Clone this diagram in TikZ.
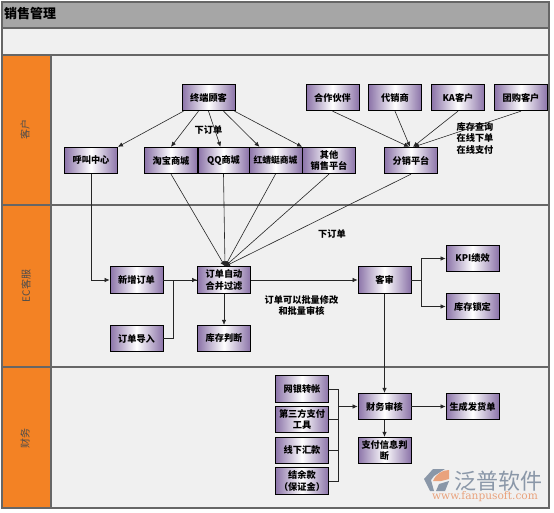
\documentclass[tikz,border=0pt]{standalone}
\usepackage{fontspec}
\setmainfont{Noto Sans CJK SC}
\newfontfamily\urlfont{DejaVu Serif}
\usepackage{xcolor}
\definecolor{laneOrange}{HTML}{F38224}
\definecolor{laneBack}{HTML}{F0F0F0}
\definecolor{laneEdge}{HTML}{666666}
\definecolor{titleGray}{HTML}{A6A6A6}
\definecolor{boxPurple}{HTML}{8B73A8}
\definecolor{logoGray}{HTML}{8A97A8}
\definecolor{logoOrange}{HTML}{E9A27C}
\usetikzlibrary{arrows.meta}
\tikzset{
  lane/.style={draw=laneEdge, line width=1.2pt},
  flowbox/.style={draw=black, line width=0.8pt, minimum width=53pt, minimum height=26.5pt,
    inner sep=0pt, align=center, font=\fontsize{9.2}{11.5}\selectfont\bfseries,
    left color=boxPurple, right color=boxPurple, middle color=white},
  flow/.style={draw=black!85, line width=0.6pt, -{Latex[length=5pt,width=4.5pt]}},
  plain/.style={draw=black!85, line width=0.6pt},
  note/.style={align=center, font=\fontsize{9.2}{11.5}\selectfont\bfseries},
  lanename/.style={rotate=90, text=black!70, font=\fontsize{10}{11}\selectfont}
}
\begin{document}
\begin{tikzpicture}[x=1pt, y=-1pt]
  \useasboundingbox (0,0) rectangle (554,513);
  \fill[white] (0,0) rectangle (554,513);
  % lanes
  \filldraw[lane, fill=titleGray] (2,2) rectangle (549,28);
  \filldraw[lane, fill=laneBack] (2,28) rectangle (549,55);
  \filldraw[lane, fill=laneBack] (51,55) rectangle (549,205);
  \filldraw[lane, fill=laneBack] (51,205) rectangle (549,367);
  \filldraw[lane, fill=laneBack] (51,367) rectangle (549,508);
  \filldraw[lane, fill=laneOrange] (2,55) rectangle (51,205);
  \filldraw[lane, fill=laneOrange] (2,205) rectangle (51,367);
  \filldraw[lane, fill=laneOrange] (2,367) rectangle (51,508);
  \node[anchor=west, inner sep=0pt, font=\fontsize{13}{14}\selectfont\bfseries] (title) at (4,14) {销售管理};
  \node[lanename] (kehu) at (25,130) {客户};
  \node[lanename] (eckefu) at (26,286) {EC客服};
  \node[lanename] (caiwu) at (25,438) {财务};
  % boxes
  \node[flowbox] (term) at (208.5,97.5) {终端顾客};
  \node[flowbox] (hujiao) at (91,160.5) {呼叫中心};
  \node[flowbox] (taobao) at (171,160.5) {淘宝商城};
  \node[flowbox, minimum width=51pt] (qq) at (223.5,160.5) {QQ商城};
  \node[flowbox] (hong) at (275.5,160.5) {\fontsize{8.8}{11}\selectfont 红蜻蜓商城};
  \node[flowbox] (qita) at (329,160.5) {其他\\销售平台};
  \node[flowbox] (fenxiao) at (411,160.5) {分销平台};
  \node[flowbox] (hezuo) at (332.5,97.5) {合作伙伴};
  \node[flowbox] (daixiao) at (395,97.5) {代销商};
  \node[flowbox] (ka) at (458,97.5) {KA客户};
  \node[flowbox] (tuangou) at (521,97.5) {团购客户};
  \node[flowbox] (xinzeng) at (136.5,280) {新增订单};
  \node[flowbox] (hebing) at (224,280) {订单自动\\合并过滤};
  \node[flowbox] (kehushen) at (384.5,280) {客审};
  \node[flowbox] (kpi) at (472.5,258.5) {KPI绩效};
  \node[flowbox] (suoding) at (472.5,306.5) {库存锁定};
  \node[flowbox] (daoru) at (136.5,338.5) {订单导入};
  \node[flowbox] (panduan) at (224,338.5) {库存判断};
  \node[flowbox] (wangyin) at (302,389) {网银转帐};
  \node[flowbox] (disanfang) at (302,419.5) {第三方支付\\工具};
  \node[flowbox] (xianxia) at (302,450.5) {线下汇款};
  \node[flowbox] (jieyu) at (302,481) {结余款\\（保证金）};
  \node[flowbox] (shenhe) at (384.5,406.5) {财务审核};
  \node[flowbox] (zhifu) at (384.5,450.5) {支付信息判\\断};
  \node[flowbox] (fahuo) at (472.5,406.5) {生成发货单};
  % notes
  \node[note] (xia1) at (208.5,130) {下订单};
  \node[note] (kucun) at (475,138) {库存查询\\在线下单\\在线支付};
  \node[note] (xia2) at (332,234.5) {下订单};
  \node[note] (piliang) at (301.5,305.5) {订单可以批量修改\\和批量审核};
  % connectors
  \draw[flow] ([xshift=-25pt]term.south) -- (hujiao.north east);
  \draw[flow] ([xshift=-10pt]term.south) -- (taobao.north);
  \draw[flow] (term.south) -- ([xshift=-3pt]qq.north);
  \draw[flow] ([xshift=15pt]term.south) -- ([xshift=-16pt]hong.north);
  \draw[flow] ([xshift=26pt]term.south) -- (qita.north west);
  \foreach \src in {taobao, qq, hong, qita, fenxiao}
    \draw[flow] (\src.south) -- ([xshift=1pt]hebing.north);
  \draw[flow] (hezuo.south) -- ([xshift=-2pt]fenxiao.north);
  \draw[flow] (daixiao.south) -- ([xshift=-1pt]fenxiao.north);
  \draw[flow] (ka.south) -- ([xshift=2pt]fenxiao.north);
  \draw[flow] (tuangou.south) -- ([xshift=3pt]fenxiao.north);
  \draw[flow] (hujiao.south) |- (xinzeng.west);
  \draw[flow] (xinzeng) -- (hebing);
  \draw[plain] (daoru.east) -- ++(10,0) |- (hebing.west);
  \draw[flow] (hebing) -- (panduan);
  \draw[flow] (hebing) -- (kehushen);
  \draw[plain] (kehushen.east) -- ++(10,0) coordinate (fork);
  \draw[flow] (fork) |- (kpi.west);
  \draw[flow] (fork) |- (suoding.west);
  \draw[flow] (kehushen) -- (shenhe);
  \draw[flow] (shenhe) -- (zhifu);
  \draw[flow] (shenhe) -- (fahuo);
  \coordinate (join) at (338.5,406.5);
  \foreach \src in {wangyin, disanfang, xianxia, jieyu}
    \draw[plain] (\src.east) -| (join);
  \draw[flow] (join) -- (shenhe.west);
  % logo
  \fill[logoGray] (424,479) -- (433,469) -- (445,469) -- (434,476) -- (431,480) -- (434,491) -- (430,491) -- cycle;
  \fill[logoOrange] (433,481) .. controls (436,474) and (442,470) .. (449,470) -- (449,479) -- (441,481) -- cycle;
  \fill[logoGray] (436,491) -- (439,484) -- (449,481) -- (445,491) -- cycle;
  \node[inner sep=0pt, text=logoGray, font=\fontsize{22}{23}\selectfont] (logotext) at (498,481) {泛普软件};
  \node[inner sep=0pt, text=logoOrange, font=\urlfont\fontsize{10.6}{11}\selectfont] (logourl) at (485,497) {www.fanpusoft.com};
\end{tikzpicture}
\end{document}
